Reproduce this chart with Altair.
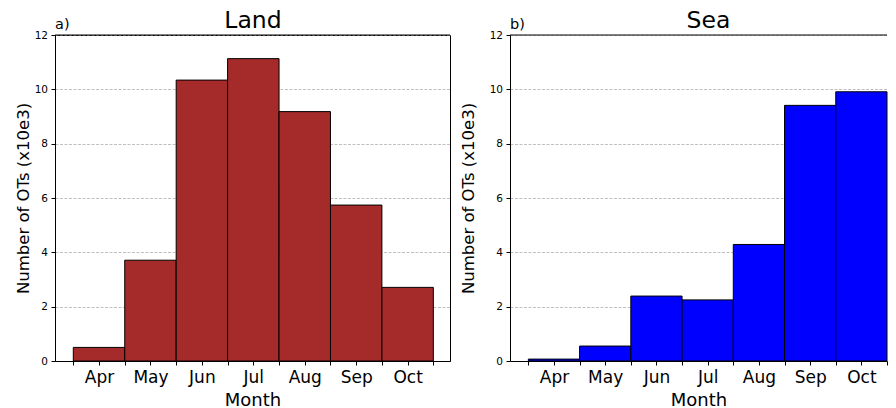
import json
import altair as alt
import pandas as pd

months = ["Apr", "May", "Jun", "Jul", "Aug", "Sep", "Oct"]
month_num = [4, 5, 6, 7, 8, 9, 10]
land_vals = [0.50, 3.71, 10.34, 11.13, 9.18, 5.74, 2.71]
sea_vals = [0.07, 0.55, 2.39, 2.25, 4.29, 9.41, 9.91]
y_ticks = [0, 2, 4, 6, 8, 10, 12]
x_ticks = [3.5, 4, 4.5, 5, 5.5, 6, 6.5, 7, 7.5, 8, 8.5, 9, 9.5, 10, 10.5]

FONT = "DejaVu Sans"
label_expr = "datum.value % 1 == 0 ? " + json.dumps(months) + "[datum.value - 4] : ''"


def panel(vals, color, title, tag, domain, width, title_x, title_cx, frame):
    df = pd.DataFrame({"month": months, "m": month_num, "v": vals})
    base = alt.Chart(df).transform_calculate(x0="datum.m - 0.5", x1="datum.m + 0.5")
    bars = base.mark_rect(fill=color, stroke="black", strokeWidth=1).encode(
        x=alt.X(
            "x0:Q",
            scale=alt.Scale(domain=domain, nice=False, zero=False),
            axis=alt.Axis(
                values=x_ticks,
                labelExpr=label_expr,
                tickSize=4,
                tickColor="black",
                domainColor="black",
                grid=False,
                labelFont=FONT,
                labelFontSize=17,
                labelColor="black",
                labelBaseline="alphabetic",
                labelPadding=17,
                labelFlush=False,
                labelOverlap=False,
                title="Month",
                titleFont=FONT,
                titleFontSize=18,
                titleFontWeight="normal",
                titleColor="black",
                titleBaseline="alphabetic",
                titleY=44,
            ),
        ),
        x2="x1:Q",
        y=alt.Y(
            "v:Q",
            scale=alt.Scale(domain=[0, 12], nice=False),
            axis=alt.Axis(
                values=y_ticks,
                tickSize=4,
                tickColor="black",
                domainColor="black",
                labelFont=FONT,
                labelFontSize=10.5,
                labelColor="black",
                labelPadding=3.5,
                grid=True,
                gridColor="#b0b0b0",
                gridDash=[3, 1.5],
                gridWidth=0.8,
                title="Number of OTs (x10e3)",
                titleFont=FONT,
                titleFontSize=16.5,
                titleFontWeight="normal",
                titleColor="black",
                titleBaseline="alphabetic",
                titleAngle=270,
                titleX=title_x,
                titleY=163,
            ),
        ),
        y2=alt.datum(0),
    )
    tag_text = alt.Chart(pd.DataFrame({"t": [tag]})).mark_text(
        align="left", baseline="alphabetic", fontSize=14.5, font=FONT, color="black"
    ).encode(text="t:N", x=alt.value(0), y=alt.value(-6.5))
    title_text = alt.Chart(pd.DataFrame({"t": [title]})).mark_text(
        align="center", baseline="alphabetic", fontSize=23.5, font=FONT, color="black"
    ).encode(text="t:N", x=alt.value(title_cx), y=alt.value(-6.7))
    top = alt.Chart(pd.DataFrame({"c": [12]})).mark_rule(color="black", strokeWidth=1).encode(
        y=alt.datum(12)
    )
    layers = [bars, tag_text, title_text, top]
    props = dict(width=width, height=326)
    if not frame:
        props["view"] = alt.ViewBackground(stroke="transparent")
    return alt.layer(*layers).properties(**props)


left = panel(land_vals, "#A52A2A", "Land", "a)", [3.144, 10.824], 395, -27, 198, True)
right = panel(sea_vals, "#0000FF", "Sea", "b)", [3.142, 10.5], 377, -36.5, 198.5, False)

chart = (
    alt.hconcat(left, right, spacing=60, bounds="flush")
    .properties(padding={"left": 6, "top": 0, "right": 0, "bottom": 0})
    .configure_view(stroke="black", strokeWidth=1)
)

chart.save("out.html", embed_options={"renderer": "svg", "actions": False})
